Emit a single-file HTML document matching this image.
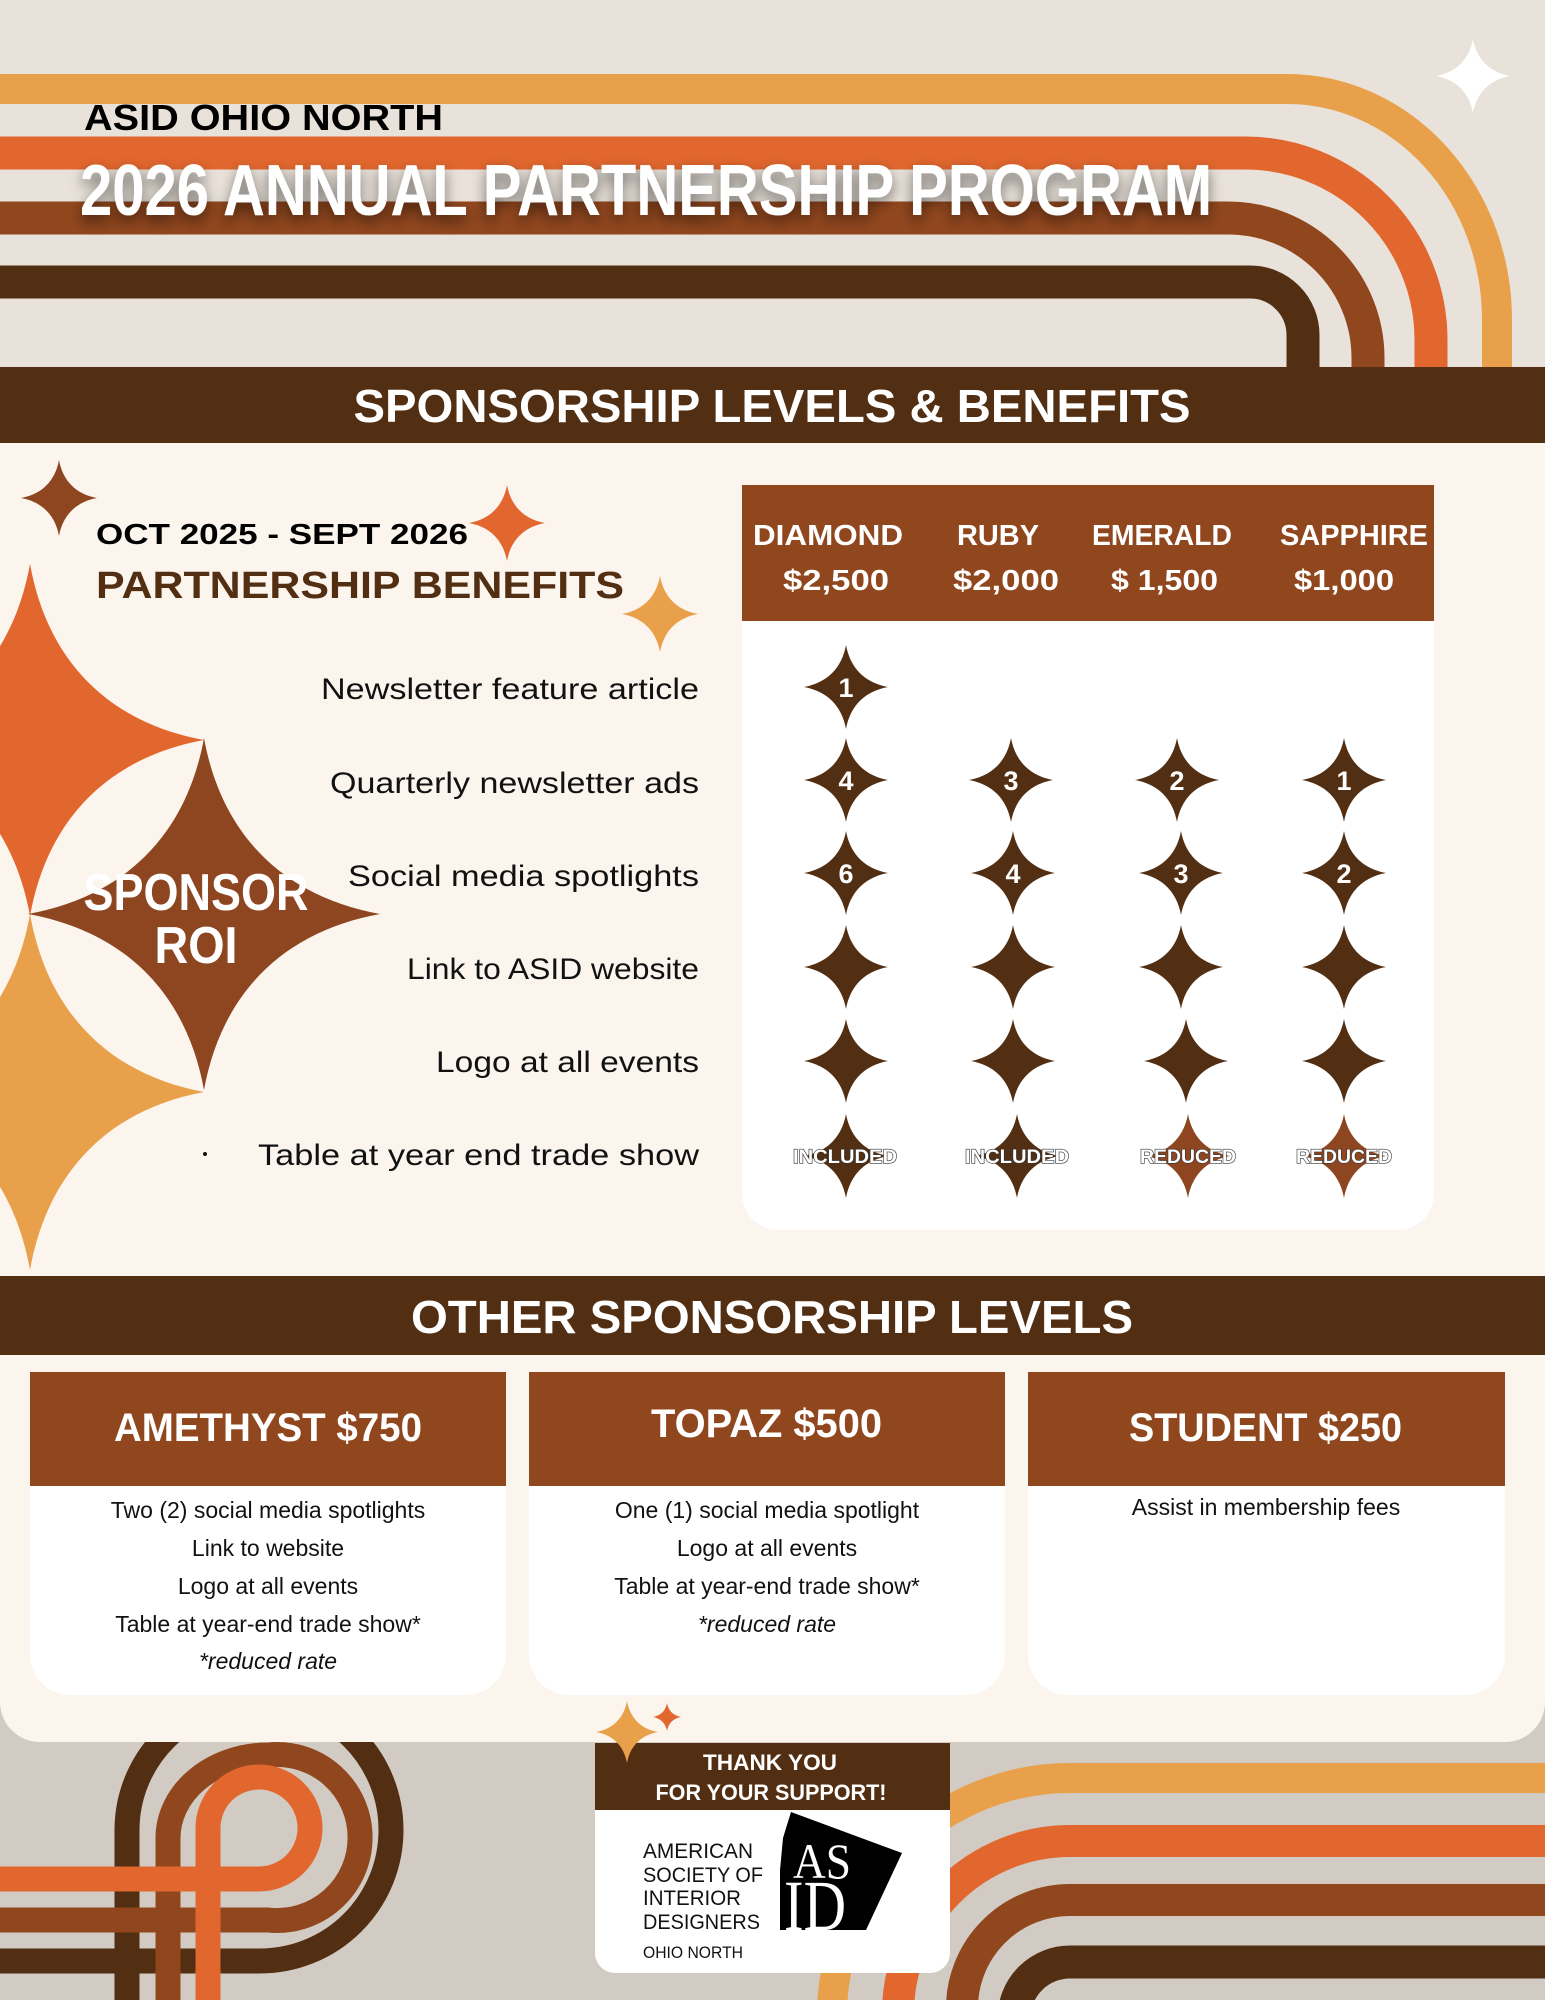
<!DOCTYPE html>
<html><head><meta charset="utf-8"><style>
html,body{margin:0;padding:0;background:#e9e2da;}
svg{display:block;}
text{font-family:"Liberation Sans",sans-serif;}
</style></head><body>
<svg width="1545" height="2000" viewBox="0 0 1545 2000" xmlns="http://www.w3.org/2000/svg">
<defs>
<path id="st" d="M0,-1 C0.1,-0.45 0.45,-0.1 1,0 C0.45,0.1 0.1,0.45 0,1 C-0.1,0.45 -0.45,0.1 -1,0 C-0.45,-0.1 -0.1,-0.45 0,-1 Z"/>
<filter id="sh" x="-5%" y="-40%" width="110%" height="180%"><feDropShadow dx="0" dy="6" stdDeviation="7" flood-color="#000" flood-opacity="0.55"/></filter>
</defs>
<rect width="1545" height="2000" fill="#e9e2da"/>
<rect y="1700" width="1545" height="300" fill="#d2cbc3"/>

<g fill="none">
<path d="M0,89 H1287 A210 231 0 0 1 1497 320 V370" stroke="#e8a04a" stroke-width="30"/>
<path d="M0,153 H1245 A186 187 0 0 1 1431 340 V370" stroke="#e2672e" stroke-width="33"/>
<path d="M0,218 H1228 A140 140 0 0 1 1368 358 V370" stroke="#91471e" stroke-width="33"/>
<path d="M0,282 H1250 A53 53 0 0 1 1303 335 V370" stroke="#522e12" stroke-width="33"/>
</g>
<use href="#st" transform="translate(1473,76) scale(37,37)" fill="#fff"/>

<text x="84" y="130" font-size="36" font-weight="bold" fill="#000" textLength="359" lengthAdjust="spacingAndGlyphs">ASID OHIO NORTH</text>
<text x="80" y="215" font-size="72" font-weight="bold" fill="#fff" filter="url(#sh)" textLength="1132" lengthAdjust="spacingAndGlyphs">2026 ANNUAL PARTNERSHIP PROGRAM</text>

<g fill="none">
<path d="M0,1961 H260 A131 131 0 1 0 260 1699 A133 131 0 0 0 127 1830 V2000" stroke="#522e12" stroke-width="25"/>
<path d="M0,1920 H268 A83 83 0 1 0 268 1755 A100 83 0 0 0 168 1838 V2000" stroke="#91471e" stroke-width="25"/>
<path d="M0,1879 H259 A51 51 0 1 0 259 1777 A51 51 0 0 0 208 1828 V2000" stroke="#e2672e" stroke-width="25"/>
<path d="M1545,1778 H1070 A238 238 0 0 0 832 2016" stroke="#e8a04a" stroke-width="30"/>
<path d="M1545,1841 H1070 A172 172 0 0 0 898 2013" stroke="#e2672e" stroke-width="32"/>
<path d="M1545,1900 H1070 A108 108 0 0 0 962 2008" stroke="#91471e" stroke-width="32"/>
<path d="M1545,1962 H1070 A56 56 0 0 0 1014 2018" stroke="#522e12" stroke-width="33"/>
</g>

<path d="M0,443 H1545 V1702 A40 40 0 0 1 1505 1742 H40 A40 40 0 0 1 0 1702 Z" fill="#fcf5ee"/>
<rect y="367" width="1545" height="76" fill="#522e12"/>
<text x="772" y="422" font-size="46" font-weight="bold" fill="#fff" text-anchor="middle" textLength="837" lengthAdjust="spacingAndGlyphs">SPONSORSHIP LEVELS &amp; BENEFITS</text>

<use href="#st" transform="translate(30,740) scale(174,176)" fill="#e2672e"/>
<use href="#st" transform="translate(30,1092) scale(174,178)" fill="#e8a04a"/>
<use href="#st" transform="translate(204,914) scale(176,176)" fill="#8e4620"/>
<text x="196" y="910" font-size="52" font-weight="bold" fill="#fff" text-anchor="middle" textLength="225" lengthAdjust="spacingAndGlyphs">SPONSOR</text>
<text x="196" y="963" font-size="52" font-weight="bold" fill="#fff" text-anchor="middle" textLength="83" lengthAdjust="spacingAndGlyphs">ROI</text>

<use href="#st" transform="translate(59,498) scale(38,38)" fill="#8e4620"/>
<use href="#st" transform="translate(507,523) scale(38,38)" fill="#e2672e"/>
<use href="#st" transform="translate(660,614) scale(38,38)" fill="#e8a04a"/>

<text x="96" y="544" font-size="29" font-weight="bold" fill="#000" textLength="372" lengthAdjust="spacingAndGlyphs">OCT 2025 - SEPT 2026</text>
<text x="96" y="598" font-size="38" font-weight="bold" fill="#522e12" textLength="528" lengthAdjust="spacingAndGlyphs">PARTNERSHIP BENEFITS</text>

<g font-size="30" fill="#111" text-anchor="end">
<text x="699" y="699" textLength="378" lengthAdjust="spacingAndGlyphs">Newsletter feature article</text>
<text x="699" y="793" textLength="369" lengthAdjust="spacingAndGlyphs">Quarterly newsletter ads</text>
<text x="699" y="886" textLength="351" lengthAdjust="spacingAndGlyphs">Social media spotlights</text>
<text x="699" y="979" textLength="292" lengthAdjust="spacingAndGlyphs">Link to ASID website</text>
<text x="699" y="1072" textLength="263" lengthAdjust="spacingAndGlyphs">Logo at all events</text>
<text x="699" y="1165" textLength="441" lengthAdjust="spacingAndGlyphs">Table at year end trade show</text>
</g>
<circle cx="205" cy="1154" r="2" fill="#111"/>

<path d="M742,621 H1434 V1194 A36 36 0 0 1 1398 1230 H778 A36 36 0 0 1 742 1194 Z" fill="#fff"/>
<rect x="742" y="485" width="692" height="136" fill="#91471e"/>
<g font-size="29" font-weight="bold" fill="#fff">
<text x="753" y="545" textLength="150" lengthAdjust="spacingAndGlyphs">DIAMOND</text>
<text x="783" y="590" textLength="106" lengthAdjust="spacingAndGlyphs">$2,500</text>
<text x="957" y="545" textLength="82" lengthAdjust="spacingAndGlyphs">RUBY</text>
<text x="953" y="590" textLength="106" lengthAdjust="spacingAndGlyphs">$2,000</text>
<text x="1092" y="545" textLength="140" lengthAdjust="spacingAndGlyphs">EMERALD</text>
<text x="1111" y="590" textLength="107" lengthAdjust="spacingAndGlyphs">$ 1,500</text>
<text x="1280" y="545" textLength="148" lengthAdjust="spacingAndGlyphs">SAPPHIRE</text>
<text x="1294" y="590" textLength="100" lengthAdjust="spacingAndGlyphs">$1,000</text>
</g>

<g fill="#522e12">
<use href="#st" transform="translate(846,687) scale(42,42)"/>
<use href="#st" transform="translate(846,780) scale(42,42)"/>
<use href="#st" transform="translate(1011,780) scale(42,42)"/>
<use href="#st" transform="translate(1177,780) scale(42,42)"/>
<use href="#st" transform="translate(1344,780) scale(42,42)"/>
<use href="#st" transform="translate(846,873) scale(42,42)"/>
<use href="#st" transform="translate(1013,873) scale(42,42)"/>
<use href="#st" transform="translate(1181,873) scale(42,42)"/>
<use href="#st" transform="translate(1344,873) scale(42,42)"/>
<use href="#st" transform="translate(846,967) scale(42,42)"/>
<use href="#st" transform="translate(1013,967) scale(42,42)"/>
<use href="#st" transform="translate(1181,967) scale(42,42)"/>
<use href="#st" transform="translate(1344,967) scale(42,42)"/>
<use href="#st" transform="translate(846,1061) scale(42,42)"/>
<use href="#st" transform="translate(1013,1061) scale(42,42)"/>
<use href="#st" transform="translate(1186,1061) scale(42,42)"/>
<use href="#st" transform="translate(1344,1061) scale(42,42)"/>
<use href="#st" transform="translate(846,1156) scale(42,42)"/>
<use href="#st" transform="translate(1017,1156) scale(42,42)"/>
</g>
<g fill="#8e4620">
<use href="#st" transform="translate(1188,1156) scale(42,42)"/>
<use href="#st" transform="translate(1344,1156) scale(42,42)"/>
</g>
<g font-size="27" font-weight="bold" fill="#fff" text-anchor="middle">
<text x="846" y="697">1</text>
<text x="846" y="790">4</text><text x="1011" y="790">3</text><text x="1177" y="790">2</text><text x="1344" y="790">1</text>
<text x="846" y="883">6</text><text x="1013" y="883">4</text><text x="1181" y="883">3</text><text x="1344" y="883">2</text>
</g>
<g font-size="19" font-weight="bold" fill="#fff" stroke="#333" stroke-width="1.2" paint-order="stroke" text-anchor="middle">
<text x="845" y="1163" textLength="104" lengthAdjust="spacingAndGlyphs">INCLUDED</text>
<text x="1017" y="1163" textLength="104" lengthAdjust="spacingAndGlyphs">INCLUDED</text>
<text x="1188" y="1163" textLength="96" lengthAdjust="spacingAndGlyphs">REDUCED</text>
<text x="1344" y="1163" textLength="96" lengthAdjust="spacingAndGlyphs">REDUCED</text>
</g>

<rect y="1276" width="1545" height="79" fill="#522e12"/>
<text x="772" y="1333" font-size="46" font-weight="bold" fill="#fff" text-anchor="middle" textLength="722" lengthAdjust="spacingAndGlyphs">OTHER SPONSORSHIP LEVELS</text>

<g fill="#fff">
<path d="M30,1486 H506 V1655 A40 40 0 0 1 466 1695 H70 A40 40 0 0 1 30 1655 Z"/>
<path d="M529,1486 H1005 V1655 A40 40 0 0 1 965 1695 H569 A40 40 0 0 1 529 1655 Z"/>
<path d="M1028,1486 H1505 V1655 A40 40 0 0 1 1465 1695 H1068 A40 40 0 0 1 1028 1655 Z"/>
</g>
<g fill="#91471e">
<rect x="30" y="1372" width="476" height="114"/>
<rect x="529" y="1372" width="476" height="114"/>
<rect x="1028" y="1372" width="477" height="114"/>
</g>
<g font-size="40" font-weight="bold" fill="#fff">
<text x="114" y="1441" textLength="308" lengthAdjust="spacingAndGlyphs">AMETHYST $750</text>
<text x="651" y="1437" textLength="231" lengthAdjust="spacingAndGlyphs">TOPAZ $500</text>
<text x="1129" y="1441" textLength="273" lengthAdjust="spacingAndGlyphs">STUDENT $250</text>
</g>
<g font-size="23" fill="#111" text-anchor="middle">
<text x="268" y="1518">Two (2) social media spotlights</text>
<text x="268" y="1556">Link to website</text>
<text x="268" y="1594">Logo at all events</text>
<text x="268" y="1632">Table at year-end trade show*</text>
<text x="268" y="1669" font-style="italic">*reduced rate</text>
<text x="767" y="1518">One (1) social media spotlight</text>
<text x="767" y="1556">Logo at all events</text>
<text x="767" y="1594">Table at year-end trade show*</text>
<text x="767" y="1632" font-style="italic">*reduced rate</text>
<text x="1266" y="1515">Assist in membership fees</text>
</g>

<path d="M595,1743 H950 V1953 A20 20 0 0 1 930 1973 H615 A20 20 0 0 1 595 1953 Z" fill="#fff"/>
<rect x="595" y="1743" width="355" height="67" fill="#522e12"/>
<use href="#st" transform="translate(627,1732) scale(31,31)" fill="#e8a04a"/>
<use href="#st" transform="translate(667,1717) scale(14,14)" fill="#e2672e"/>
<g font-size="22" font-weight="bold" fill="#fff" text-anchor="middle">
<text x="770" y="1770" textLength="134" lengthAdjust="spacingAndGlyphs">THANK YOU</text>
<text x="771" y="1800" textLength="231" lengthAdjust="spacingAndGlyphs">FOR YOUR SUPPORT!</text>
</g>
<g font-size="21" fill="#111">
<text x="643" y="1858" textLength="110" lengthAdjust="spacingAndGlyphs">AMERICAN</text>
<text x="643" y="1882" textLength="120" lengthAdjust="spacingAndGlyphs">SOCIETY OF</text>
<text x="643" y="1905" textLength="98" lengthAdjust="spacingAndGlyphs">INTERIOR</text>
<text x="643" y="1929" textLength="117" lengthAdjust="spacingAndGlyphs">DESIGNERS</text>
<text x="643" y="1958" font-size="17" textLength="100" lengthAdjust="spacingAndGlyphs">OHIO NORTH</text>
</g>
<polygon points="791,1812 902,1853 866,1930 780,1930 780,1870 783,1838" fill="#000"/>
<text x="793" y="1878" fill="#fff" font-size="50" style="font-family:'Liberation Serif',serif" textLength="58" lengthAdjust="spacingAndGlyphs">AS</text>
<text x="784" y="1930" fill="#fff" font-size="72" style="font-family:'Liberation Serif',serif" textLength="62" lengthAdjust="spacingAndGlyphs">ID</text>
</svg>
</body></html>
